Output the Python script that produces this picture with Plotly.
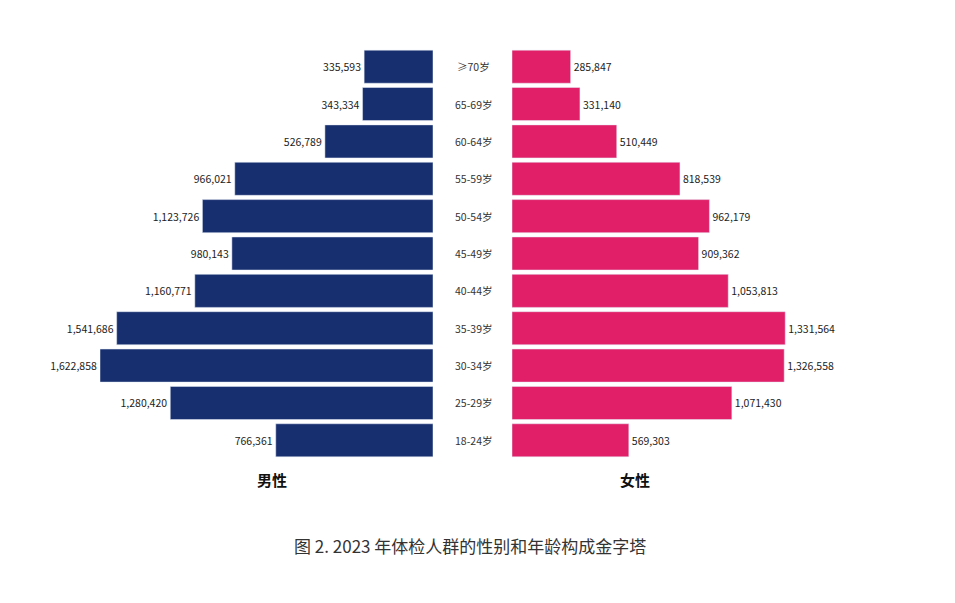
import plotly.graph_objects as go

ages = ["18-24岁","25-29岁","30-34岁","35-39岁","40-44岁","45-49岁","50-54岁","55-59岁","60-64岁","65-69岁","≥70岁"]
male = [766361,1280420,1622858,1541686,1160771,980143,1123726,966021,526789,343334,335593]
female = [569303,1071430,1326558,1331564,1053813,909362,962179,818539,510449,331140,285847]

W, H = 955, 603
y0, y1 = 1-451/H, 1-40/H
fig = go.Figure()
fig.add_trace(go.Bar(y=ages, x=male, orientation="h", marker_color="#182f6f",
    text=[f"{v:,}" for v in male], textposition="outside", textfont=dict(size=10.5, color="#222"),
    xaxis="x", yaxis="y", cliponaxis=False))
fig.add_trace(go.Bar(y=ages, x=female, orientation="h", marker_color="#e01f68",
    text=[f"{v:,}" for v in female], textposition="outside", textfont=dict(size=10.5, color="#222"),
    xaxis="x2", yaxis="y2", cliponaxis=False))
mx = 1622858
fig.update_layout(
    width=W, height=H, margin=dict(l=0, r=0, t=0, b=0), showlegend=False,
    plot_bgcolor="white", paper_bgcolor="white", bargap=0.115,
    font=dict(family="Noto Sans CJK SC"),
    xaxis=dict(domain=[92/W, 425/W], range=[mx, 0], visible=False),
    xaxis2=dict(domain=[504/W, 837/W], range=[0, mx], visible=False),
    yaxis=dict(domain=[y0, y1], visible=False, categoryorder="array", categoryarray=ages),
    yaxis2=dict(domain=[y0, y1], visible=False, anchor="x2", categoryorder="array", categoryarray=ages),
)
for a in ages:
    fig.add_annotation(x=465/W, xref="paper", y=a, yref="y", text=a, showarrow=False,
                       font=dict(size=10.5, color="#333"))
fig.add_annotation(x=247/W, y=1-484/H, xref="paper", yref="paper", text="<b>男性</b>", showarrow=False, font=dict(size=15, color="#111"))
fig.add_annotation(x=644/W, y=1-484/H, xref="paper", yref="paper", text="<b>女性</b>", showarrow=False, font=dict(size=15, color="#111"))
fig.add_annotation(x=462/W, y=1-552/H, xref="paper", yref="paper", text="图 2. 2023 年体检人群的性别和年龄构成金字塔", showarrow=False, font=dict(size=17, color="#333"))
fig.write_html("out.html")
